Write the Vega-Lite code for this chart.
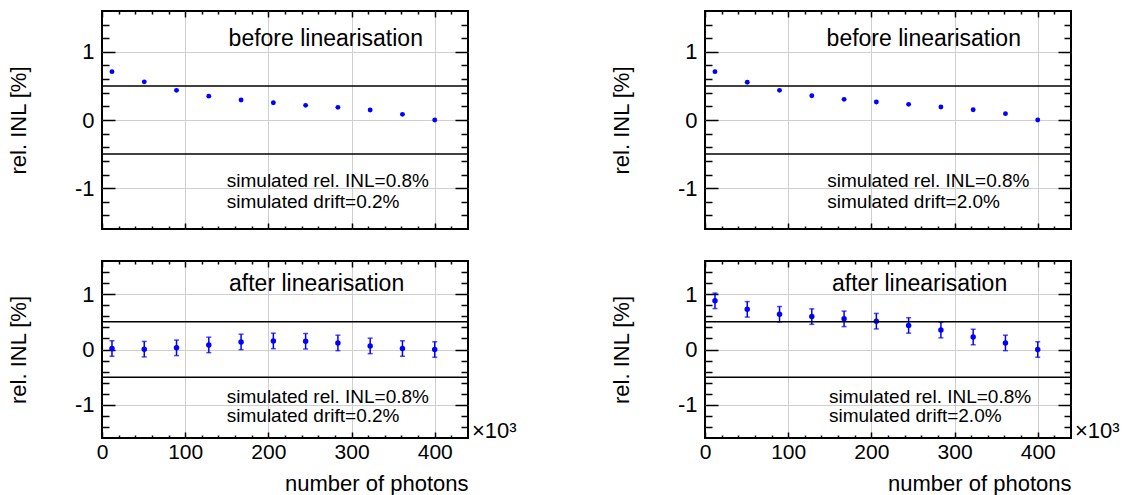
{
  "$schema": "https://vega.github.io/schema/vega-lite/v6.json",
  "padding": {"left": 6, "top": 9, "right": 4, "bottom": 0},
  "background": "white",
  "bounds": "flush",
  "columns": 2,
  "spacing": {"row": 32, "column": 237},
  "config": {
    "font": "Liberation Sans",
    "view": {"stroke": "black", "strokeWidth": 2},
    "axis": {"domain": false, "labelColor": "black", "titleColor": "black", "titleFontWeight": "normal", "tickColor": "black", "tickWidth": 1.5, "labelFont": "Liberation Sans", "titleFont": "Liberation Sans", "labelOverlap": false, "labelFlush": false, "gridColor": "#cfcfcf", "gridWidth": 1}
  },
  "datasets": {
    "tl": [
      {"x": 12, "y": 0.71}, {"x": 50.8, "y": 0.56}, {"x": 89.6, "y": 0.435}, {"x": 128.4, "y": 0.35}, {"x": 167.2, "y": 0.293}, {"x": 206, "y": 0.253}, {"x": 244.8, "y": 0.215}, {"x": 283.6, "y": 0.186}, {"x": 322.4, "y": 0.146}, {"x": 361.2, "y": 0.083}, {"x": 400, "y": 0.0}
    ],
    "tr": [
      {"x": 12, "y": 0.71}, {"x": 50.8, "y": 0.555}, {"x": 89.6, "y": 0.435}, {"x": 128.4, "y": 0.356}, {"x": 167.2, "y": 0.303}, {"x": 206, "y": 0.264}, {"x": 244.8, "y": 0.23}, {"x": 283.6, "y": 0.19}, {"x": 322.4, "y": 0.15}, {"x": 361.2, "y": 0.093}, {"x": 400, "y": 0.0}
    ],
    "bl": [
      {"x": 12, "y": 0.018, "lo": -0.122, "hi": 0.158}, {"x": 50.8, "y": 0.006, "lo": -0.134, "hi": 0.146}, {"x": 89.6, "y": 0.03, "lo": -0.11, "hi": 0.17}, {"x": 128.4, "y": 0.083, "lo": -0.057, "hi": 0.223}, {"x": 167.2, "y": 0.137, "lo": -0.003, "hi": 0.277}, {"x": 206, "y": 0.155, "lo": 0.015, "hi": 0.295}, {"x": 244.8, "y": 0.149, "lo": 0.009, "hi": 0.289}, {"x": 283.6, "y": 0.119, "lo": -0.021, "hi": 0.259}, {"x": 322.4, "y": 0.065, "lo": -0.075, "hi": 0.205}, {"x": 361.2, "y": 0.018, "lo": -0.122, "hi": 0.158}, {"x": 400, "y": 0.0, "lo": -0.14, "hi": 0.14}
    ],
    "br": [
      {"x": 12, "y": 0.88, "lo": 0.74, "hi": 1.02}, {"x": 50.8, "y": 0.726, "lo": 0.586, "hi": 0.866}, {"x": 89.6, "y": 0.637, "lo": 0.497, "hi": 0.777}, {"x": 128.4, "y": 0.595, "lo": 0.455, "hi": 0.735}, {"x": 167.2, "y": 0.554, "lo": 0.414, "hi": 0.694}, {"x": 206, "y": 0.512, "lo": 0.372, "hi": 0.652}, {"x": 244.8, "y": 0.435, "lo": 0.295, "hi": 0.575}, {"x": 283.6, "y": 0.351, "lo": 0.211, "hi": 0.491}, {"x": 322.4, "y": 0.226, "lo": 0.086, "hi": 0.366}, {"x": 361.2, "y": 0.119, "lo": -0.021, "hi": 0.259}, {"x": 400, "y": 0.0, "lo": -0.14, "hi": 0.14}
    ],
    "lines": [{"y": 0.5}, {"y": -0.5}],
    "tl_head": [{"x": 269, "y": 1.19, "t": "before linearisation"}],
    "tr_head": [{"x": 263, "y": 1.19, "t": "before linearisation"}],
    "bl_head": [{"x": 258, "y": 1.19, "t": "after linearisation"}],
    "br_head": [{"x": 258, "y": 1.19, "t": "after linearisation"}],
    "tl_sim": [{"x": 150, "y": -0.89, "t": "simulated rel. INL=0.8%"}, {"x": 150, "y": -1.2, "t": "simulated drift=0.2%"}],
    "tr_sim": [{"x": 147, "y": -0.89, "t": "simulated rel. INL=0.8%"}, {"x": 147, "y": -1.2, "t": "simulated drift=2.0%"}],
    "bl_sim": [{"x": 150, "y": -0.85, "t": "simulated rel. INL=0.8%"}, {"x": 150, "y": -1.2, "t": "simulated drift=0.2%"}],
    "br_sim": [{"x": 149, "y": -0.85, "t": "simulated rel. INL=0.8%"}, {"x": 149, "y": -1.2, "t": "simulated drift=2.0%"}],
    "mult": [{"x": 440, "y": -1.6, "t": "×10³"}]
  },
  "concat": [
    {
      "width": 366, "height": 218,
      "layer": [
        {"data": {"name": "tl"}, "mark": {"type": "point", "filled": true, "size": 24, "color": "#0000ff", "opacity": 1},
         "encoding": {
           "x": {"field": "x", "type": "quantitative", "scale": {"domain": [0, 440], "nice": false, "zero": false},
                 "axis": {"orient": "bottom", "values": [0,20,40,60,80,100,120,140,160,180,200,220,240,260,280,300,320,340,360,380,400,420], "labels": false, "title": null,
                          "tickSize": {"condition": {"test": "datum.value % 100 == 0", "value": -6}, "value": -3},
                          "grid": true, "gridOpacity": {"condition": {"test": "datum.value % 100 == 0 && datum.value > 0", "value": 1}, "value": 0}}},
           "y": {"field": "y", "type": "quantitative", "scale": {"domain": [-1.6, 1.6], "nice": false, "zero": false},
                 "axis": {"orient": "left", "values": [-1.4,-1.2,-1,-0.8,-0.6,-0.4,-0.2,0,0.2,0.4,0.6,0.8,1,1.2,1.4],
                          "labelExpr": "datum.value == 1 ? '1' : datum.value == 0 ? '0' : datum.value == -1 ? '-1' : ''",
                          "tickSize": {"condition": {"test": "datum.value == 1 || datum.value == 0 || datum.value == -1", "value": -13}, "value": -7},
                          "grid": true, "gridOpacity": {"condition": {"test": "datum.value == 1 || datum.value == 0 || datum.value == -1", "value": 1}, "value": 0},
                          "labelFontSize": 22, "labelPadding": 21, "title": "rel. INL [%]", "titleFontSize": 22, "titlePadding": 44}}
         }},
        {"data": {"name": "tl_sim"}, "mark": {"type": "text", "align": "left", "baseline": "middle", "fontSize": 19, "color": "black"},
         "encoding": {
           "x": {"field": "x", "type": "quantitative", "scale": {"domain": [0, 440], "nice": false, "zero": false},
                 "axis": {"orient": "top", "values": [0,20,40,60,80,100,120,140,160,180,200,220,240,260,280,300,320,340,360,380,400,420], "labels": false, "title": null, "grid": false,
                          "tickSize": {"condition": {"test": "datum.value % 100 == 0", "value": -6}, "value": -3}}},
           "y": {"field": "y", "type": "quantitative", "scale": {"domain": [-1.6, 1.6], "nice": false, "zero": false},
                 "axis": {"orient": "right", "values": [-1.4,-1.2,-1,-0.8,-0.6,-0.4,-0.2,0,0.2,0.4,0.6,0.8,1,1.2,1.4], "labels": false, "title": null, "grid": false,
                          "tickSize": {"condition": {"test": "datum.value == 1 || datum.value == 0 || datum.value == -1", "value": -13}, "value": -7}}},
           "text": {"field": "t"}
         }},
        {"data": {"name": "tl_head"}, "mark": {"type": "text", "align": "center", "baseline": "middle", "fontSize": 23, "color": "black"},
         "encoding": {
           "x": {"field": "x", "type": "quantitative", "scale": {"domain": [0, 440], "nice": false, "zero": false}, "axis": null},
           "y": {"field": "y", "type": "quantitative", "scale": {"domain": [-1.6, 1.6], "nice": false, "zero": false}, "axis": null},
           "text": {"field": "t"}
         }},
        {"data": {"name": "lines"}, "mark": {"type": "rule", "color": "black", "strokeWidth": 1.5},
         "encoding": {"y": {"field": "y", "type": "quantitative", "scale": {"domain": [-1.6, 1.6], "nice": false, "zero": false}, "axis": null}}}
      ],
      "resolve": {"axis": {"x": "independent", "y": "independent"}}
    },
    {
      "width": 366, "height": 218,
      "layer": [
        {"data": {"name": "tr"}, "mark": {"type": "point", "filled": true, "size": 24, "color": "#0000ff", "opacity": 1},
         "encoding": {
           "x": {"field": "x", "type": "quantitative", "scale": {"domain": [0, 440], "nice": false, "zero": false},
                 "axis": {"orient": "bottom", "values": [0,20,40,60,80,100,120,140,160,180,200,220,240,260,280,300,320,340,360,380,400,420], "labels": false, "title": null,
                          "tickSize": {"condition": {"test": "datum.value % 100 == 0", "value": -6}, "value": -3},
                          "grid": true, "gridOpacity": {"condition": {"test": "datum.value % 100 == 0 && datum.value > 0", "value": 1}, "value": 0}}},
           "y": {"field": "y", "type": "quantitative", "scale": {"domain": [-1.6, 1.6], "nice": false, "zero": false},
                 "axis": {"orient": "left", "values": [-1.4,-1.2,-1,-0.8,-0.6,-0.4,-0.2,0,0.2,0.4,0.6,0.8,1,1.2,1.4],
                          "labelExpr": "datum.value == 1 ? '1' : datum.value == 0 ? '0' : datum.value == -1 ? '-1' : ''",
                          "tickSize": {"condition": {"test": "datum.value == 1 || datum.value == 0 || datum.value == -1", "value": -13}, "value": -7},
                          "grid": true, "gridOpacity": {"condition": {"test": "datum.value == 1 || datum.value == 0 || datum.value == -1", "value": 1}, "value": 0},
                          "labelFontSize": 22, "labelPadding": 21, "title": "rel. INL [%]", "titleFontSize": 22, "titlePadding": 44}}
         }},
        {"data": {"name": "tr_sim"}, "mark": {"type": "text", "align": "left", "baseline": "middle", "fontSize": 19, "color": "black"},
         "encoding": {
           "x": {"field": "x", "type": "quantitative", "scale": {"domain": [0, 440], "nice": false, "zero": false},
                 "axis": {"orient": "top", "values": [0,20,40,60,80,100,120,140,160,180,200,220,240,260,280,300,320,340,360,380,400,420], "labels": false, "title": null, "grid": false,
                          "tickSize": {"condition": {"test": "datum.value % 100 == 0", "value": -6}, "value": -3}}},
           "y": {"field": "y", "type": "quantitative", "scale": {"domain": [-1.6, 1.6], "nice": false, "zero": false},
                 "axis": {"orient": "right", "values": [-1.4,-1.2,-1,-0.8,-0.6,-0.4,-0.2,0,0.2,0.4,0.6,0.8,1,1.2,1.4], "labels": false, "title": null, "grid": false,
                          "tickSize": {"condition": {"test": "datum.value == 1 || datum.value == 0 || datum.value == -1", "value": -13}, "value": -7}}},
           "text": {"field": "t"}
         }},
        {"data": {"name": "tr_head"}, "mark": {"type": "text", "align": "center", "baseline": "middle", "fontSize": 23, "color": "black"},
         "encoding": {
           "x": {"field": "x", "type": "quantitative", "scale": {"domain": [0, 440], "nice": false, "zero": false}, "axis": null},
           "y": {"field": "y", "type": "quantitative", "scale": {"domain": [-1.6, 1.6], "nice": false, "zero": false}, "axis": null},
           "text": {"field": "t"}
         }},
        {"data": {"name": "lines"}, "mark": {"type": "rule", "color": "black", "strokeWidth": 1.5},
         "encoding": {"y": {"field": "y", "type": "quantitative", "scale": {"domain": [-1.6, 1.6], "nice": false, "zero": false}, "axis": null}}}
      ],
      "resolve": {"axis": {"x": "independent", "y": "independent"}}
    },
    {
      "width": 366, "height": 177,
      "layer": [
        {"data": {"name": "bl"}, "mark": {"type": "errorbar", "color": "#0000ff", "thickness": 1.5, "ticks": {"size": 5, "thickness": 1.5, "color": "#0000ff"}},
         "encoding": {
           "x": {"field": "x", "type": "quantitative", "scale": {"domain": [0, 440], "nice": false, "zero": false},
                 "axis": {"orient": "bottom", "values": [0,20,40,60,80,100,120,140,160,180,200,220,240,260,280,300,320,340,360,380,400,420],
                          "labelExpr": "datum.value % 100 == 0 ? '' + datum.value : ''", "labelFontSize": 21, "labelPadding": 9,
                          "title": "number of photons", "titleAnchor": "end", "titleFontSize": 22, "titlePadding": 8,
                          "tickSize": {"condition": {"test": "datum.value % 100 == 0", "value": -6}, "value": -3},
                          "grid": true, "gridOpacity": {"condition": {"test": "datum.value % 100 == 0 && datum.value > 0", "value": 1}, "value": 0}}},
           "y": {"field": "lo", "type": "quantitative", "scale": {"domain": [-1.6, 1.6], "nice": false, "zero": false},
                 "axis": {"orient": "left", "values": [-1.4,-1.2,-1,-0.8,-0.6,-0.4,-0.2,0,0.2,0.4,0.6,0.8,1,1.2,1.4],
                          "labelExpr": "datum.value == 1 ? '1' : datum.value == 0 ? '0' : datum.value == -1 ? '-1' : ''",
                          "tickSize": {"condition": {"test": "datum.value == 1 || datum.value == 0 || datum.value == -1", "value": -13}, "value": -7},
                          "grid": true, "gridOpacity": {"condition": {"test": "datum.value == 1 || datum.value == 0 || datum.value == -1", "value": 1}, "value": 0},
                          "labelFontSize": 22, "labelPadding": 21, "title": "rel. INL [%]", "titleFontSize": 22, "titlePadding": 44}},
           "y2": {"field": "hi"}
         }},
        {"data": {"name": "bl"}, "mark": {"type": "point", "filled": true, "size": 30, "color": "#0000ff", "opacity": 1},
         "encoding": {
           "x": {"field": "x", "type": "quantitative", "scale": {"domain": [0, 440], "nice": false, "zero": false}, "axis": null},
           "y": {"field": "y", "type": "quantitative", "scale": {"domain": [-1.6, 1.6], "nice": false, "zero": false}, "axis": null}
         }},
        {"data": {"name": "bl_sim"}, "mark": {"type": "text", "align": "left", "baseline": "middle", "fontSize": 19, "color": "black"},
         "encoding": {
           "x": {"field": "x", "type": "quantitative", "scale": {"domain": [0, 440], "nice": false, "zero": false},
                 "axis": {"orient": "top", "values": [0,20,40,60,80,100,120,140,160,180,200,220,240,260,280,300,320,340,360,380,400,420], "labels": false, "title": null, "grid": false,
                          "tickSize": {"condition": {"test": "datum.value % 100 == 0", "value": -6}, "value": -3}}},
           "y": {"field": "y", "type": "quantitative", "scale": {"domain": [-1.6, 1.6], "nice": false, "zero": false},
                 "axis": {"orient": "right", "values": [-1.4,-1.2,-1,-0.8,-0.6,-0.4,-0.2,0,0.2,0.4,0.6,0.8,1,1.2,1.4], "labels": false, "title": null, "grid": false,
                          "tickSize": {"condition": {"test": "datum.value == 1 || datum.value == 0 || datum.value == -1", "value": -13}, "value": -7}}},
           "text": {"field": "t"}
         }},
        {"data": {"name": "bl_head"}, "mark": {"type": "text", "align": "center", "baseline": "middle", "fontSize": 23, "color": "black"},
         "encoding": {
           "x": {"field": "x", "type": "quantitative", "scale": {"domain": [0, 440], "nice": false, "zero": false}, "axis": null},
           "y": {"field": "y", "type": "quantitative", "scale": {"domain": [-1.6, 1.6], "nice": false, "zero": false}, "axis": null},
           "text": {"field": "t"}
         }},
        {"data": {"name": "mult"}, "mark": {"type": "text", "align": "left", "baseline": "alphabetic", "fontSize": 22, "dx": 4, "color": "black"},
         "encoding": {
           "x": {"field": "x", "type": "quantitative", "scale": {"domain": [0, 440], "nice": false, "zero": false}, "axis": null},
           "y": {"field": "y", "type": "quantitative", "scale": {"domain": [-1.6, 1.6], "nice": false, "zero": false}, "axis": null},
           "text": {"field": "t"}
         }},
        {"data": {"name": "lines"}, "mark": {"type": "rule", "color": "black", "strokeWidth": 1.5},
         "encoding": {"y": {"field": "y", "type": "quantitative", "scale": {"domain": [-1.6, 1.6], "nice": false, "zero": false}, "axis": null}}}
      ],
      "resolve": {"axis": {"x": "independent", "y": "independent"}}
    },
    {
      "width": 366, "height": 177,
      "layer": [
        {"data": {"name": "br"}, "mark": {"type": "errorbar", "color": "#0000ff", "thickness": 1.5, "ticks": {"size": 5, "thickness": 1.5, "color": "#0000ff"}},
         "encoding": {
           "x": {"field": "x", "type": "quantitative", "scale": {"domain": [0, 440], "nice": false, "zero": false},
                 "axis": {"orient": "bottom", "values": [0,20,40,60,80,100,120,140,160,180,200,220,240,260,280,300,320,340,360,380,400,420],
                          "labelExpr": "datum.value % 100 == 0 ? '' + datum.value : ''", "labelFontSize": 21, "labelPadding": 9,
                          "title": "number of photons", "titleAnchor": "end", "titleFontSize": 22, "titlePadding": 8,
                          "tickSize": {"condition": {"test": "datum.value % 100 == 0", "value": -6}, "value": -3},
                          "grid": true, "gridOpacity": {"condition": {"test": "datum.value % 100 == 0 && datum.value > 0", "value": 1}, "value": 0}}},
           "y": {"field": "lo", "type": "quantitative", "scale": {"domain": [-1.6, 1.6], "nice": false, "zero": false},
                 "axis": {"orient": "left", "values": [-1.4,-1.2,-1,-0.8,-0.6,-0.4,-0.2,0,0.2,0.4,0.6,0.8,1,1.2,1.4],
                          "labelExpr": "datum.value == 1 ? '1' : datum.value == 0 ? '0' : datum.value == -1 ? '-1' : ''",
                          "tickSize": {"condition": {"test": "datum.value == 1 || datum.value == 0 || datum.value == -1", "value": -13}, "value": -7},
                          "grid": true, "gridOpacity": {"condition": {"test": "datum.value == 1 || datum.value == 0 || datum.value == -1", "value": 1}, "value": 0},
                          "labelFontSize": 22, "labelPadding": 21, "title": "rel. INL [%]", "titleFontSize": 22, "titlePadding": 44}},
           "y2": {"field": "hi"}
         }},
        {"data": {"name": "br"}, "mark": {"type": "point", "filled": true, "size": 30, "color": "#0000ff", "opacity": 1},
         "encoding": {
           "x": {"field": "x", "type": "quantitative", "scale": {"domain": [0, 440], "nice": false, "zero": false}, "axis": null},
           "y": {"field": "y", "type": "quantitative", "scale": {"domain": [-1.6, 1.6], "nice": false, "zero": false}, "axis": null}
         }},
        {"data": {"name": "br_sim"}, "mark": {"type": "text", "align": "left", "baseline": "middle", "fontSize": 19, "color": "black"},
         "encoding": {
           "x": {"field": "x", "type": "quantitative", "scale": {"domain": [0, 440], "nice": false, "zero": false},
                 "axis": {"orient": "top", "values": [0,20,40,60,80,100,120,140,160,180,200,220,240,260,280,300,320,340,360,380,400,420], "labels": false, "title": null, "grid": false,
                          "tickSize": {"condition": {"test": "datum.value % 100 == 0", "value": -6}, "value": -3}}},
           "y": {"field": "y", "type": "quantitative", "scale": {"domain": [-1.6, 1.6], "nice": false, "zero": false},
                 "axis": {"orient": "right", "values": [-1.4,-1.2,-1,-0.8,-0.6,-0.4,-0.2,0,0.2,0.4,0.6,0.8,1,1.2,1.4], "labels": false, "title": null, "grid": false,
                          "tickSize": {"condition": {"test": "datum.value == 1 || datum.value == 0 || datum.value == -1", "value": -13}, "value": -7}}},
           "text": {"field": "t"}
         }},
        {"data": {"name": "br_head"}, "mark": {"type": "text", "align": "center", "baseline": "middle", "fontSize": 23, "color": "black"},
         "encoding": {
           "x": {"field": "x", "type": "quantitative", "scale": {"domain": [0, 440], "nice": false, "zero": false}, "axis": null},
           "y": {"field": "y", "type": "quantitative", "scale": {"domain": [-1.6, 1.6], "nice": false, "zero": false}, "axis": null},
           "text": {"field": "t"}
         }},
        {"data": {"name": "mult"}, "mark": {"type": "text", "align": "left", "baseline": "alphabetic", "fontSize": 22, "dx": 4, "color": "black"},
         "encoding": {
           "x": {"field": "x", "type": "quantitative", "scale": {"domain": [0, 440], "nice": false, "zero": false}, "axis": null},
           "y": {"field": "y", "type": "quantitative", "scale": {"domain": [-1.6, 1.6], "nice": false, "zero": false}, "axis": null},
           "text": {"field": "t"}
         }},
        {"data": {"name": "lines"}, "mark": {"type": "rule", "color": "black", "strokeWidth": 1.5},
         "encoding": {"y": {"field": "y", "type": "quantitative", "scale": {"domain": [-1.6, 1.6], "nice": false, "zero": false}, "axis": null}}}
      ],
      "resolve": {"axis": {"x": "independent", "y": "independent"}}
    }
  ]
}
